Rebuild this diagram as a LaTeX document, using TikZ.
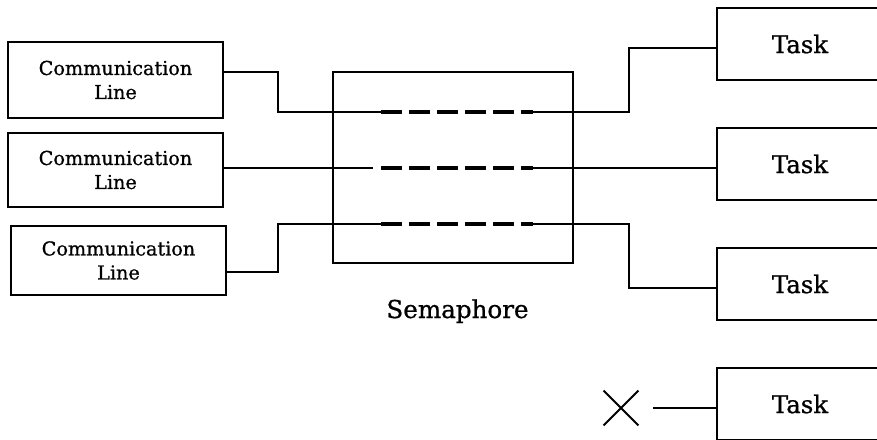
\documentclass[tikz,border=0pt]{standalone}
\usepackage{fontspec}
\setmainfont{DejaVu Serif}[BoldFont={DejaVu Serif}, BoldFeatures={FakeBold=0.8}]
\usetikzlibrary{positioning, shapes.misc, calc}

\begin{document}
\begin{tikzpicture}[x=0.5pt, y=-0.5pt,
    clbox/.style={draw, line width=0.9pt, minimum width=107.5pt, inner sep=0pt,
      align=center, font=\bfseries\fontsize{9.6}{12}\selectfont},
    taskbox/.style={draw, line width=0.9pt, minimum width=83pt, minimum height=36pt,
      inner sep=0pt, font=\bfseries\fontsize{12.2}{14}\selectfont},
    wire/.style={line width=0.9pt},
    dashline/.style={line width=1.7pt, dash pattern=on 10.5pt off 3.5pt}]
    \useasboundingbox (0,0) rectangle (877,439);
    \clip (0,0) rectangle (877,439);
    % communication lines
    \node[clbox, minimum height=38pt] (cl1) at (115.5,80) {Communication\\Line};
    \node[clbox, minimum height=37pt] (cl2) at (115.5,170) {Communication\\Line};
    \node[clbox, minimum height=34.5pt] (cl3) at (118.5,260.5) {Communication\\Line};
    % semaphore
    \node[draw, line width=0.9pt, minimum width=120pt, minimum height=95.5pt,
      inner sep=0pt] (sem) at (453,167.5) {};
    \node[anchor=base, font=\bfseries\fontsize{12.3}{14}\selectfont] (semlabel) at (457.5,318) {Semaphore};
    % tasks
    \foreach \i/\y in {1/44, 2/164, 3/284, 4/404}
      \node[taskbox] (t\i) at (800,\y) {Task};
    \node[cross out, draw, line width=0.9pt, minimum size=16.5pt, inner sep=0pt] (none) at (621,408) {};
    % lanes
    \foreach \i/\y in {1/112, 2/168, 3/224} {
      \coordinate (sa\i) at (381,\y);
      \coordinate (sb\i) at (533,\y);
      \draw[dashline] (sa\i) -- (sb\i);
    }
    \draw[wire] ([yshift=4pt]cl1.east) -- ++(54,0) |- (sa1);
    \draw[wire] ([yshift=1pt]cl2.east) -- ([xshift=-4pt]sa2);
    \draw[wire] ([yshift=-5.75pt]cl3.east) -- ++(51,0) |- (sa3);
    \draw[wire] (sb1) -- ++(96,0) |- ([yshift=-2pt]t1.west);
    \draw[wire] (sb2) -- (sb2 -| t2.west);
    \draw[wire] (sb3) -- ++(96,0) |- ([yshift=-2pt]t3.west);
    \draw[wire] ([xshift=7.5pt]none.east) -- (none -| t4.west);
\end{tikzpicture}
\end{document}
